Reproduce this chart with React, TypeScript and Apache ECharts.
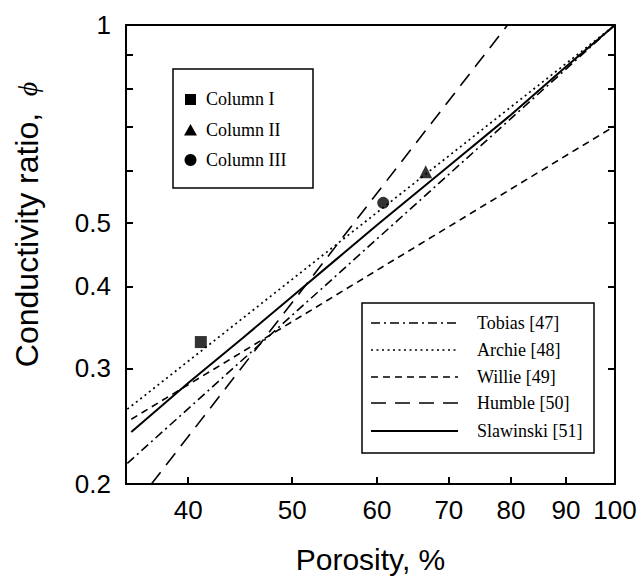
import { useEffect, useRef } from "react";
import * as echarts from "echarts";

// ---- data ----
const xTicks = [40, 50, 60, 70, 80, 90, 100];
const yTicks = [0.2, 0.3, 0.4, 0.5, 0.6, 0.7, 0.8, 0.9, 1];
const yLabels = [0.2, 0.3, 0.4, 0.5, 1];
const xRange = [35, 100];
const yRange = [0.2, 1];

const tobiasX = [35.1, 100];
const tobiasY = [0.215, 1];
const archieX = [35.1, 100];
const archieY = [0.26, 1];
const willieX = [35.4, 100];
const willieY = [0.251, 0.702];
const humbleX = [36.96, 79.4];
const humbleY = [0.2, 1];
const slawX = [35.4, 40, 45, 50, 55, 60, 70, 80, 90, 100];
const slawY = [0.24, 0.285, 0.334, 0.386, 0.44, 0.496, 0.61, 0.73, 0.864, 1];

const columnNames = ["Column I", "Column II", "Column III"];
const columnX = [41.1, 66.6, 60.8];
const columnY = [0.329, 0.598, 0.536];
const columnSymbols = ["rect", "triangle", "circle"];
const columnSizes = [12, 13, 12];

const lineNames = ["Tobias [47]", "Archie [48]", "Willie [49]", "Humble [50]", "Slawinski [51]"];

const L = Math.log10;
const toPts = (xs: number[], ys: number[]) => xs.map((x, i) => [L(x), L(ys[i])]);

const dashTobias = [9, 4, 2, 4];
const dashArchie = [2, 3.5];
const dashWillie = [7, 5];
const dashHumble = [15, 9];

export default function App() {
  const ref = useRef<HTMLDivElement>(null);
  useEffect(() => {
    if (!ref.current) return;
    const chart = echarts.init(ref.current, undefined, { renderer: "svg" });
    const black = "#000";
    const lineSets = [
      { name: lineNames[0], data: toPts(tobiasX, tobiasY), type: dashTobias, width: 1.6 },
      { name: lineNames[1], data: toPts(archieX, archieY), type: dashArchie, width: 1.7 },
      { name: lineNames[2], data: toPts(willieX, willieY), type: dashWillie, width: 1.6 },
      { name: lineNames[3], data: toPts(humbleX, humbleY), type: dashHumble, width: 1.6 },
      { name: lineNames[4], data: toPts(slawX, slawY), type: "solid", width: 2 },
    ];
    const series: any[] = lineSets.map((s) => ({
      type: "line",
      name: s.name,
      data: s.data,
      symbol: "none",
      showSymbol: false,
      silent: true,
      clip: true,
      lineStyle: { color: black, width: s.width, type: s.type },
      z: 2,
    }));
    columnNames.forEach((n, i) => {
      series.push({
        type: "scatter",
        name: n,
        data: [[L(columnX[i]), L(columnY[i])]],
        symbol: columnSymbols[i],
        symbolSize: columnSizes[i],
        itemStyle: { color: black },
        silent: true,
        z: 3,
      });
    });

    const legendRows = [323, 350, 377, 403, 431];
    const legendDashes: any[] = [dashTobias, dashArchie, dashWillie, dashHumble, null];
    const legendWidths = [1.6, 1.7, 1.6, 1.6, 2];
    const markerRows = [99, 130, 160];
    const serif = '"Liberation Serif", "Times New Roman", serif';

    const graphic: any[] = [
      {
        type: "text",
        x: 27,
        y: 240,
        rotation: Math.PI / 2,
        style: {
          text: "Conductivity ratio,",
          font: '32px "Liberation Sans", Arial, sans-serif',
          fill: black,
          textAlign: "center",
          textVerticalAlign: "middle",
        },
      },
      {
        type: "text",
        x: 27,
        y: 89,
        rotation: Math.PI / 2,
        style: {
          text: "ϕ",
          font: "italic 28px " + serif,
          fill: black,
          textAlign: "center",
          textVerticalAlign: "middle",
        },
      },
      // marker legend
      {
        type: "rect",
        z: 100,
        shape: { x: 173, y: 69, width: 140, height: 119 },
        style: { fill: "#fff", stroke: black, lineWidth: 1.5 },
      },
      {
        type: "rect",
        z: 101,
        shape: { x: 185, y: markerRows[0] - 5, width: 11, height: 11 },
        style: { fill: black },
      },
      {
        type: "polygon",
        z: 101,
        shape: {
          points: [
            [190.5, markerRows[1] - 6],
            [184, markerRows[1] + 5.5],
            [197, markerRows[1] + 5.5],
          ],
        },
        style: { fill: black },
      },
      {
        type: "circle",
        z: 101,
        shape: { cx: 190.5, cy: markerRows[2], r: 6 },
        style: { fill: black },
      },
      ...columnNames.map((n, i) => ({
        type: "text",
        z: 101,
        x: 206,
        y: markerRows[i],
        style: {
          text: n,
          font: "18px " + serif,
          fill: black,
          textAlign: "left",
          textVerticalAlign: "middle",
        },
      })),
      // line legend
      {
        type: "rect",
        z: 100,
        shape: { x: 362, y: 303, width: 232, height: 150 },
        style: { fill: "#fff", stroke: black, lineWidth: 1.5 },
      },
      ...lineNames.map((n, i) => ({
        type: "line",
        z: 101,
        shape: { x1: 371, y1: legendRows[i], x2: 458, y2: legendRows[i] },
        style: {
          stroke: black,
          lineWidth: legendWidths[i],
          lineDash: legendDashes[i] || undefined,
        },
      })),
      ...lineNames.map((n, i) => ({
        type: "text",
        z: 101,
        x: 477,
        y: legendRows[i],
        style: {
          text: n,
          font: "18px " + serif,
          fill: black,
          textAlign: "left",
          textVerticalAlign: "middle",
        },
      })),
    ];

    const axisLineStyle = { color: black, width: 2 };
    const sans = '"Liberation Sans", Arial, sans-serif';

    chart.setOption({
      animation: false,
      backgroundColor: "#fff",
      grid: { left: 126, right: 26, top: 25, bottom: 91, containLabel: false },
      xAxis: [
        {
          type: "value",
          position: "bottom",
          min: L(xRange[0]),
          max: L(xRange[1]),
          axisLine: { show: true, onZero: false, lineStyle: axisLineStyle },
          axisTick: {
            show: true,
            inside: true,
            length: 7,
            customValues: xTicks.map(L),
            lineStyle: { color: black, width: 2 },
          },
          axisLabel: {
            show: true,
            customValues: xTicks.map(L),
            formatter: (v: number) => String(Math.round(Math.pow(10, v))),
            color: black,
            fontFamily: sans,
            fontSize: 26,
            margin: 13,
          },
          splitLine: { show: false },
          name: "Porosity, %",
          nameLocation: "middle",
          nameGap: 60,
          nameTextStyle: { color: black, fontFamily: sans, fontSize: 30 },
        },
        {
          type: "value",
          position: "top",
          min: L(xRange[0]),
          max: L(xRange[1]),
          axisLine: { show: true, onZero: false, lineStyle: axisLineStyle },
          axisTick: { show: false },
          axisLabel: { show: false },
          splitLine: { show: false },
        },
      ],
      yAxis: [
        {
          type: "value",
          position: "left",
          min: L(yRange[0]),
          max: L(yRange[1]),
          axisLine: { show: true, onZero: false, lineStyle: axisLineStyle },
          axisTick: {
            show: true,
            inside: true,
            length: 7,
            customValues: yTicks.map(L),
            lineStyle: { color: black, width: 2 },
          },
          axisLabel: {
            show: true,
            customValues: yLabels.map(L),
            formatter: (v: number) => String(Math.round(Math.pow(10, v) * 10) / 10),
            color: black,
            fontFamily: sans,
            fontSize: 26,
            margin: 15,
            padding: [0, 0, 10, 0],
          },
          splitLine: { show: false },
        },
        {
          type: "value",
          position: "right",
          min: L(yRange[0]),
          max: L(yRange[1]),
          axisLine: { show: true, onZero: false, lineStyle: axisLineStyle },
          axisTick: {
            show: true,
            inside: true,
            length: 7,
            customValues: yTicks.map(L),
            lineStyle: { color: black, width: 2 },
          },
          axisLabel: { show: false },
          splitLine: { show: false },
        },
      ],
      series,
      graphic,
    });
    return () => chart.dispose();
  }, []);
  return (
    <div
      ref={ref}
      style={{ position: "absolute", left: 0, top: 0, width: 641, height: 579, background: "#fff" }}
    />
  );
}
